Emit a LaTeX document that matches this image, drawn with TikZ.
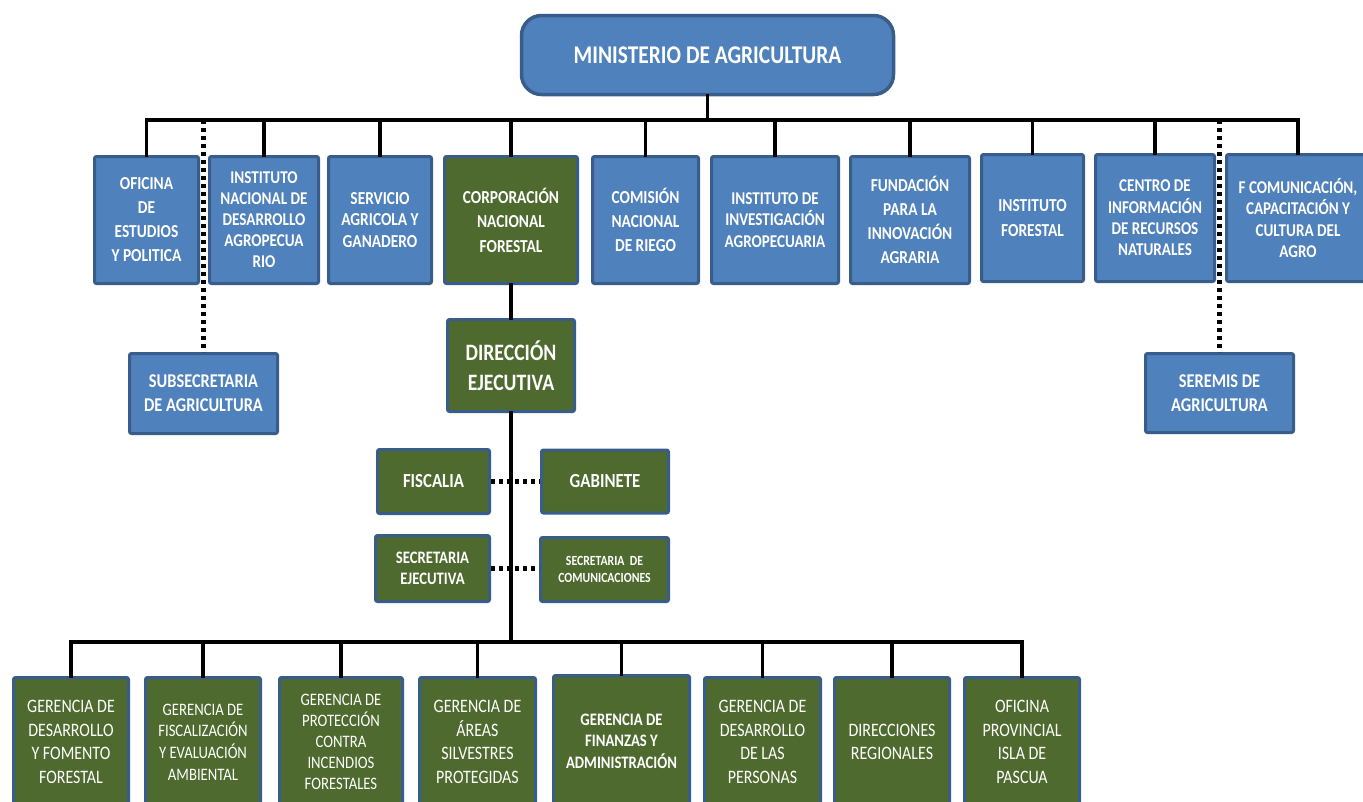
\documentclass[tikz,border=0pt]{standalone}
\usepackage{fontspec}
\setmainfont{Carlito}[FakeStretch=0.84]
\usepackage{xcolor}
\usepackage{tikz}
\definecolor{azul}{RGB}{79,129,189}
\definecolor{bordeazul}{RGB}{56,93,138}
\definecolor{verde}{RGB}{78,106,46}

\tikzset{
  caja/.style={draw=bordeazul, line width=3pt, rounded corners=2pt, text=white, align=center, inner sep=0pt},
  azul/.style={caja, fill=azul},
  verde/.style={caja, fill=verde},
  tam/.style 2 args={minimum width=#1pt, minimum height=#2pt},
  negra/.style 2 args={font=\fontsize{#1}{#2}\selectfont\bfseries},
  fina/.style 2 args={font=\fontsize{#1}{#2}\selectfont},
  linea/.style={line width=3.8pt, line cap=rect},
  punteada/.style={line width=4.5pt, dash pattern=on 4pt off 4pt}
}

\begin{document}
\begin{tikzpicture}[x=1pt, y=-1pt]
    \useasboundingbox (0,0) rectangle (1363,801);

    % Ministerio
    \node[azul, tam={372}{79}, rounded corners=20pt, line width=3.5pt, negra={25.5}{30}] (min) at (707.5,55) {MINISTERIO DE AGRICULTURA};

    % Servicios del ministerio
    \node[azul, tam={104}{127}, negra={18.3}{24}] (ofi) at (146.5,220) {OFICINA\\DE\\ESTUDIOS\\Y POLITICA};
    \node[azul, tam={109}{127}, negra={18}{21}] (ind) at (264,220) {INSTITUTO\\NACIONAL DE\\DESARROLLO\\AGROPECUA\\RIO};
    \node[azul, tam={103}{127}, negra={18.3}{21.5}] (sag) at (380,220) {SERVICIO\\AGRICOLA Y\\GANADERO};
    \node[verde, tam={133}{127}, negra={18.3}{24.5}] (conaf) at (511,220) {CORPORACIÓN\\NACIONAL\\FORESTAL};
    \node[azul, tam={106}{127}, negra={18.3}{24}] (cnr) at (645.5,220) {COMISIÓN\\NACIONAL\\DE RIEGO};
    \node[azul, tam={127}{127}, negra={18}{21.5}] (inia) at (775,220) {INSTITUTO DE\\INVESTIGACIÓN\\AGROPECUARIA};
    \node[azul, tam={119}{127}, negra={18.3}{24}] (fia) at (910,220) {FUNDACIÓN\\PARA LA\\INNOVACIÓN\\AGRARIA};
    \node[azul, tam={102}{127}, negra={18.3}{25}] (infor) at (1032.5,218) {INSTITUTO\\FORESTAL};
    \node[azul, tam={119}{127}, negra={18}{21.3}] (ciren) at (1155,218) {CENTRO DE\\INFORMACIÓN\\DE RECURSOS\\NATURALES};
    \node[azul, tam={143}{127}, negra={18}{21.3}] (fucoa) at (1298,218) {F COMUNICACIÓN,\\CAPACITACIÓN Y\\CULTURA DEL\\AGRO};

    \node[azul, tam={148}{80}, negra={19.5}{24}] (subse) at (203.5,393.5) {SUBSECRETARIA\\DE AGRICULTURA};
    \node[azul, tam={148}{79}, negra={19.5}{24}] (seremi) at (1219.5,393) {SEREMIS DE\\AGRICULTURA};

    % Lineas del ministerio
    \coordinate (busarriba) at (708,120);
    \draw[linea] (min) -- (min.south |- busarriba);
    \draw[linea] (ofi.north |- busarriba) -- (fucoa.north |- busarriba);
    \foreach \n in {ofi,ind,sag,conaf,cnr,inia,fia,infor,ciren,fucoa}
        \draw[linea] (\n.north |- busarriba) -- (\n.north);
    \draw[punteada] (subse.north |- busarriba) -- (subse.north);
    \draw[punteada] (seremi.north |- busarriba) -- (seremi.north);

    % CONAF
    \node[verde, tam={127}{92}, negra={23.5}{30}] (dir) at (511,365.5) {DIRECCIÓN\\EJECUTIVA};
    \node[verde, tam={112}{64}, negra={20}{24}] (fisc) at (433.5,481.5) {FISCALIA};
    \node[verde, tam={127}{63}, negra={20}{24}] (gab) at (605,481.5) {GABINETE};
    \node[verde, tam={114}{66}, negra={17.5}{21.5}] (secej) at (432.5,568.5) {SECRETARIA\\EJECUTIVA};
    \node[verde, tam={128}{64}, negra={14}{17}] (seccom) at (604.5,569.5) {SECRETARIA\ \ DE\\COMUNICACIONES};

    \draw[linea] (conaf) -- (dir);
    \draw[punteada] (fisc.east) -- (fisc.east -| gab.west);
    \draw[punteada] (secej.east) -- (secej.east -| seccom.west);

    % Gerencias
    \node[verde, tam={115}{129}, fina={19}{23.5}] (g1) at (71,742) {GERENCIA DE\\DESARROLLO\\Y FOMENTO\\FORESTAL};
    \node[verde, tam={115}{129}, fina={17.5}{21.7}] (g2) at (203,742) {GERENCIA DE\\FISCALIZACIÓN\\Y EVALUACIÓN\\AMBIENTAL};
    \node[verde, tam={123}{129}, fina={17.5}{21}] (g3) at (341,742) {GERENCIA DE\\PROTECCIÓN\\CONTRA\\INCENDIOS\\FORESTALES};
    \node[verde, tam={116}{129}, fina={19}{23.5}] (g4) at (477.5,742) {GERENCIA DE\\ÁREAS\\SILVESTRES\\PROTEGIDAS};
    \node[verde, tam={136}{131}, negra={17.5}{21.5}] (g5) at (621.5,741) {GERENCIA DE\\FINANZAS Y\\ADMINISTRACIÓN};
    \node[verde, tam={116}{129}, fina={19}{23.5}] (g6) at (762.5,742) {GERENCIA DE\\DESARROLLO\\DE LAS\\PERSONAS};
    \node[verde, tam={115}{129}, fina={19}{23.5}] (g7) at (892,742) {DIRECCIONES\\REGIONALES};
    \node[verde, tam={115}{129}, fina={19}{23.5}] (g8) at (1022,742) {OFICINA\\PROVINCIAL\\ISLA DE\\PASCUA};

    \coordinate (busabajo) at (511,642);
    \draw[linea] (dir.south) -- (busabajo);
    \draw[linea] (g1.north |- busabajo) -- (g8.north |- busabajo);
    \foreach \n in {g1,g2,g3,g4,g5,g6,g7,g8}
        \draw[linea] (\n.north |- busabajo) -- (\n.north);
\end{tikzpicture}
\end{document}
